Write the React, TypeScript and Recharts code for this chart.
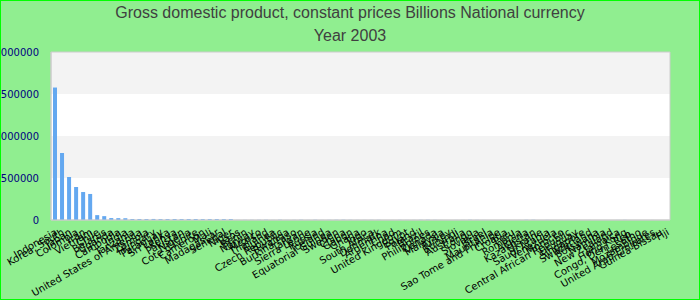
import React from 'react';
import { BarChart, Bar, XAxis, YAxis, CartesianGrid } from 'recharts';

const titleLine1 = 'Gross domestic product, constant prices Billions National currency';
const titleLine2 = 'Year 2003';

const categories = [
  'Indonesia', 'Korea, South', 'Japan', 'Colombia', 'Iran', 'Vietnam', 'Chile', 'Belarus',
  'Uganda', 'Cambodia', 'India', 'Tanzania', 'United States of America', 'Zambia', 'Hungary',
  'Paraguay', 'Sri Lanka', 'Kenya', 'Pakistan', 'Nigeria', "Cote d'Ivoire", 'Cameroon', 'Mali',
  'Madagascar', 'Senegal', 'Niger', 'Laos', 'Benin', 'Norway', 'Mexico', 'Thailand', 'Guinea',
  'Czech Republic', 'Rwanda', 'Burkina Faso', 'Taiwan', 'Sierra Leone', 'Russia', 'Iceland',
  'Equatorial Guinea', 'Sweden', 'China', 'Gabon', 'Ghana', 'Togo', 'South Africa', 'Denmark',
  'Argentina', 'Chad', 'United Kingdom', 'Egypt', 'Poland', 'Brazil', 'Philippines', 'Canada',
  'Malaysia', 'Turkey', 'Burundi', 'Australia', 'Congo', 'Slovakia', 'Israel', 'Mauritania',
  'Sao Tome and Principe', 'Croatia', 'Peru', 'Romania', 'Algeria', 'Kazakhstan',
  'Ukraine', 'Saudi Arabia', 'Venezuela', 'Morocco', 'Central African Republic', 'Uruguay', 'Singapore',
  'Switzerland', 'Botswana', 'Namibia', 'New Zealand', 'Jamaica', 'Hong Kong', 'Congo, Dem. Rep.',
  'Lesotho', 'Mozambique', 'United Arab Emirates', 'Guinea-Bissau', 'Fiji',
];

const gdpValues = [
  1577000, 797000, 512000, 393000, 333000, 310000, 58000, 46000,
  23000, 22000, 21000, 12000, 11500, 11000, 12500,
  10500, 11000, 12000, 10800, 11200, 11500, 10000, 10500,
  11000, 10200, 10800, 900, 1200, 1500, 1800, 2400, 700,
  2500, 600, 1100, 2300, 800, 2200, 800,
  1300, 2000, 2600, 1500, 900, 800, 1300, 1400,
  300, 400, 1100, 600, 800, 1700, 2400, 1200,
  400, 300, 500, 800, 2000, 1100, 500, 300,
  100, 200, 100, 400, 2000, 2300,
  200, 1000, 300, 500, 500, 400, 200,
  450, 60, 50, 130, 600, 1300, 200,
  20, 100, 400, 150, 5,
];

const yTicks = [0, 500000, 1000000, 1500000, 2000000];

const data = categories.map((country, i) => ({ country, value: gdpValues[i] }));

const tickFont = "'DejaVu Sans', sans-serif";

export default function App() {
  return (
    <div
      style={{
        position: 'absolute',
        left: 0,
        top: 0,
        width: 700,
        height: 300,
        background: '#90ee90',
        fontFamily: "'Liberation Sans', Arial, sans-serif",
        overflow: 'hidden',
      }}
    >
      <BarChart width={700} height={300} data={data} margin={{ top: 52, right: 30, left: 1, bottom: 0 }}>
        <CartesianGrid horizontalFill={['#f3f3f3', '#ffffff']} vertical={false} stroke="none" />
        <CartesianGrid
          stroke="#cccccc"
          horizontalCoordinatesGenerator={({ offset }: any) => [offset.top, offset.top + offset.height]}
          verticalCoordinatesGenerator={({ offset }: any) => [offset.left, offset.left + offset.width]}
        />
        <XAxis
          dataKey="country"
          interval={0}
          angle={-30}
          textAnchor="end"
          height={80}
          tickLine={false}
          axisLine={{ stroke: '#cccccc' }}
          tick={{ fontSize: 10, fill: '#000000', fontFamily: tickFont }}
        />
        <YAxis
          width={50}
          domain={[0, 2000000]}
          ticks={yTicks}
          tickLine={false}
          tickMargin={6}
          axisLine={{ stroke: '#cccccc' }}
          tick={{ fontSize: 10, fill: '#000080', fontFamily: tickFont }}
        />
        <Bar dataKey="value" fill="#64a8f0" barSize={4} isAnimationActive={false} />
      </BarChart>
      <div
        style={{
          position: 'absolute',
          left: 0,
          top: 4,
          width: 700,
          textAlign: 'center',
          fontSize: 16,
          color: '#404040',
          whiteSpace: 'nowrap',
        }}
      >
        {titleLine1}
      </div>
      <div
        style={{
          position: 'absolute',
          left: 0,
          top: 27,
          width: 700,
          textAlign: 'center',
          fontSize: 16,
          color: '#404040',
        }}
      >
        {titleLine2}
      </div>
      <div
        style={{
          position: 'absolute',
          left: 0,
          top: 0,
          width: 700,
          height: 300,
          boxSizing: 'border-box',
          border: '1px solid #00ff00',
          pointerEvents: 'none',
        }}
      />
    </div>
  );
}
